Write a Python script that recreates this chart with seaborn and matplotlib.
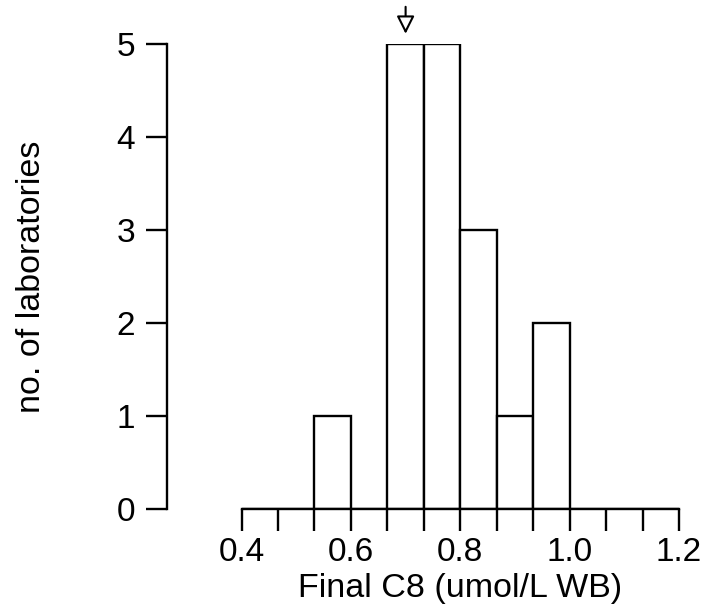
import numpy as np
import pandas as pd
import matplotlib
matplotlib.use("Agg")
import matplotlib.pyplot as plt
import seaborn as sns

# Data
bin_edges = [0.4 + i / 15 for i in range(13)]          # bins of width 1/15 from 0.4 to 1.2
counts = [0, 0, 1, 0, 5, 5, 3, 1, 2, 0, 0, 0]           # no. of laboratories per bin
x_ticks = [0.4, 0.6, 0.8, 1.0, 1.2]
x_ticklabels = ["0.4", "0.6", "0.8", "1.0", "1.2"]
y_ticks = [0, 1, 2, 3, 4, 5]
target_value = 0.7
x_label = "Final C8 (umol/L WB)"
y_label = "no. of laboratories"

sns.set_style("white")
plt.rcParams['font.family'] = ['Liberation Sans', 'DejaVu Sans']
plt.rcParams['text.color'] = 'black'
plt.rcParams['axes.labelcolor'] = 'black'
plt.rcParams['xtick.color'] = 'black'
plt.rcParams['ytick.color'] = 'black'

centers = [(bin_edges[i] + bin_edges[i + 1]) / 2 for i in range(len(counts))]
df = pd.DataFrame({"value": centers, "count": counts})

fig = plt.figure(figsize=(7.21, 6.07), dpi=100)
ax = fig.add_axes([167 / 721, 1 - 509 / 607, (679 - 167) / 721, (509 - 44) / 607])

lw = 1.7
sns.histplot(data=df, x="value", weights="count", bins=bin_edges, ax=ax,
             color="white", edgecolor="black", linewidth=lw, alpha=1)

ax.set_xlim(0.4 - (241.5 - 167) / 437 * 0.8, 1.2)
ax.set_ylim(0, 5)

for s in ["top", "right"]:
    ax.spines[s].set_visible(False)
for s in ["left", "bottom"]:
    ax.spines[s].set_linewidth(lw)
    ax.spines[s].set_color("black")
ax.spines["bottom"].set_bounds(0.4, 1.2)
ax.spines["left"].set_bounds(0, 5)

ax.set_xticks(bin_edges, minor=True)
ax.set_xticks(x_ticks)
ax.set_xticklabels(x_ticklabels)
ax.set_yticks(y_ticks)
ax.tick_params(axis="x", which="both", direction="out", length=16, width=lw,
               color="black", labelcolor="black", bottom=True, pad=4, labelsize=24)
ax.tick_params(axis="y", direction="out", length=15, width=lw, color="black",
               labelcolor="black", left=True, pad=8, labelsize=24)

ax.set_xlabel(x_label, fontsize=24.5, color="black")
ax.set_ylabel(y_label, fontsize=24.5, color="black")
ax.xaxis.set_label_coords((460 - 167) / 512, (509 - 588) / 465)
ax.yaxis.set_label_coords((32 - 167) / 512, 0.5)
ax.xaxis.label.set_va("center")
ax.yaxis.label.set_va("center")

ax.annotate("", xy=(target_value, 5.11), xycoords="data",
            xytext=(target_value, 5.40), textcoords="data",
            arrowprops=dict(arrowstyle="-|>", ec="black", fc="white", lw=1.5,
                            mutation_scale=27, shrinkA=0, shrinkB=0),
            annotation_clip=False)

fig.savefig("out.png", dpi=100)
